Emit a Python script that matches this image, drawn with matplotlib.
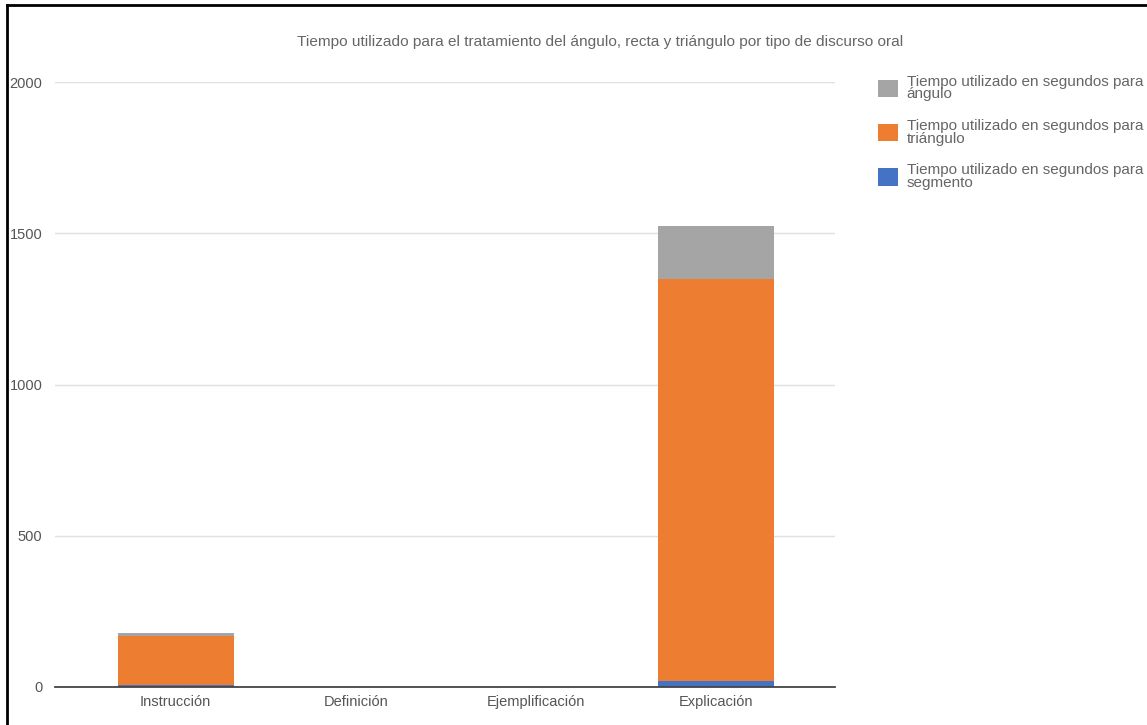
import matplotlib.pyplot as plt
import numpy as np

plt.rcParams['font.family'] = ['Liberation Sans', 'DejaVu Sans']

# Data
categories = ['Instrucción', 'Definición', 'Ejemplificación', 'Explicación']
segmento = [5, 0, 0, 20]
triangulo = [165, 0, 0, 1329]
angulo = [10, 0, 0, 175]

labels = [
    'Tiempo utilizado en segundos para\nsegmento',
    'Tiempo utilizado en segundos para\ntriángulo',
    'Tiempo utilizado en segundos para\nángulo',
]
colors = ['#4472c4', '#ed7d31', '#a5a5a5']
title = 'Tiempo utilizado para el tratamiento del ángulo, recta y triángulo por tipo de discurso oral'

W, H = 1147, 725
fig = plt.figure(figsize=(W / 100, H / 100), dpi=100)
ax = fig.add_axes([55 / W, 38 / H, 780 / W, 605 / H])

x = np.arange(len(categories))
width = 0.645
bottom = np.zeros(len(categories))
handles = []
for vals, lab, col in zip([segmento, triangulo, angulo], labels, colors):
    b = ax.bar(x, vals, width, bottom=bottom, color=col, label=lab, zorder=3)
    handles.append(b)
    bottom += np.array(vals)

ax.set_xlim(-0.67, 3.66)
ax.set_ylim(0, 2000)
ax.set_yticks([0, 500, 1000, 1500, 2000])
ax.set_xticks(x)
ax.set_xticklabels(categories)
ax.tick_params(axis='both', length=0, labelsize=10.5, labelcolor='#555555')
ax.tick_params(axis='y', pad=9)
ax.tick_params(axis='x', pad=6)
ax.grid(axis='y', color='#e0e0e0', linewidth=1, zorder=0)
for s in ['top', 'right', 'left']:
    ax.spines[s].set_visible(False)
ax.spines['bottom'].set_color('#444444')
ax.spines['bottom'].set_linewidth(1.3)
ax.spines['bottom'].set_zorder(4)

fig.text(600 / W, 1 - 42 / H, title, ha='center', va='center', fontsize=11.1, color='#666666')

leg = fig.legend(handles[::-1], labels[::-1], loc='upper left',
                 bbox_to_anchor=(864 / W, 1 - 61 / H), frameon=False,
                 fontsize=11, handlelength=1.3, handleheight=1.35,
                 labelspacing=1.15, handletextpad=0.6)
for t in leg.get_texts():
    t.set_color('#666666')
    t.set_linespacing(0.88)

# black frame of the screenshot (left and top edges)
fig.add_artist(plt.Line2D([7 / W, 7 / W], [0, 1 - 5 / H], color='black', linewidth=2, transform=fig.transFigure))
fig.add_artist(plt.Line2D([7 / W, 1], [1 - 5 / H, 1 - 5 / H], color='black', linewidth=2, transform=fig.transFigure))

fig.savefig('out.png', dpi=100)
